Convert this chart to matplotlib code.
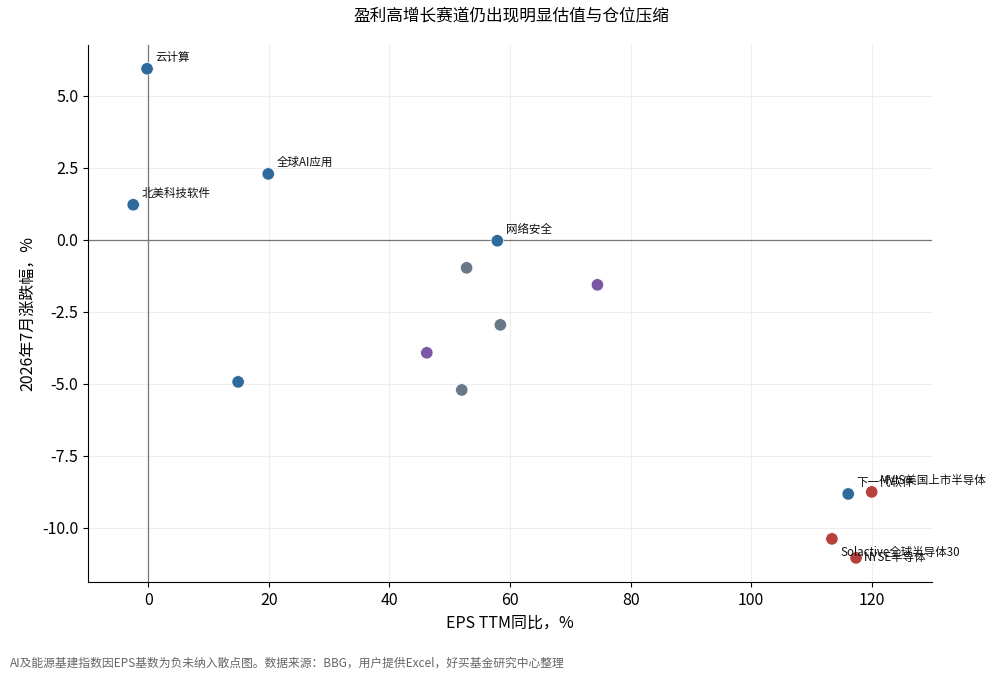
import matplotlib
matplotlib.use("Agg")
import matplotlib.pyplot as plt

plt.rcParams["font.family"] = ["Noto Sans CJK SC", "DejaVu Sans"]
plt.rcParams["axes.unicode_minus"] = False

# EPS TTM growth (%) vs July 2026 return (%)
names = ["云计算", "全球AI应用", "北美科技软件", "网络安全", "", "", "", "", "", "",
         "下一代软件", "MVIS美国上市半导体", "Solactive全球半导体30", "NYSE半导体"]
eps_growth = [-0.2, 19.9, -2.5, 57.9, 52.8, 74.5, 58.4, 46.2, 52.0, 14.9,
              116.1, 120.0, 113.4, 117.4]
july_ret = [5.94, 2.29, 1.22, -0.03, -0.97, -1.56, -2.95, -3.92, -5.21, -4.93,
            -8.82, -8.75, -10.38, -11.04]
groups = ["soft", "soft", "soft", "soft", "other", "energy", "other", "energy", "other", "soft",
          "soft", "semi", "semi", "semi"]

group_colors = {
    "soft": "#2e6a9b",
    "other": "#697888",
    "energy": "#7a58a6",
    "semi": "#b7413a",
}

# label offsets in points
label_offsets = {
    "Solactive全球半导体30": (6, -10),
    "NYSE半导体": (6, 0),
}

fig = plt.figure(figsize=(10, 6.8), dpi=100)
ax = fig.add_axes([0.088, 0.144, 0.844, 0.79])

ax.axhline(0, color="#777777", linewidth=0.9, zorder=1)
ax.axvline(0, color="#777777", linewidth=0.9, zorder=1)

cols = [group_colors[g] for g in groups]
ax.scatter(eps_growth, july_ret, s=80, c=cols, edgecolors="white", linewidths=0.5, zorder=3)

for n, x, y in zip(names, eps_growth, july_ret):
    if not n:
        continue
    dx, dy = label_offsets.get(n, (6, 8))
    ax.annotate(n, (x, y), xytext=(dx, dy), textcoords="offset points",
                fontsize=8.3, va="center", ha="left", color="#111111", zorder=4)

ax.set_xlim(-10, 130)
ax.set_ylim(-11.88, 6.77)
ax.set_yticks([5.0, 2.5, 0.0, -2.5, -5.0, -7.5, -10.0])
ax.set_yticklabels(["5.0", "2.5", "0.0", "-2.5", "-5.0", "-7.5", "-10.0"])
ax.set_xticks([0, 20, 40, 60, 80, 100, 120])
ax.tick_params(labelsize=11.5)
ax.grid(True, color="#eeeeee", linewidth=0.8, zorder=0)
ax.set_axisbelow(True)
for side in ["top", "right"]:
    ax.spines[side].set_visible(False)

ax.set_xlabel("EPS TTM同比，%", fontsize=11.5)
ax.set_ylabel("2026年7月涨跌幅，%", fontsize=11.5)
fig.text(0.511, 0.975, "盈利高增长赛道仍出现明显估值与仓位压缩", ha="center", va="center", fontsize=12)
fig.text(0.01, 0.025, "AI及能源基建指数因EPS基数为负未纳入散点图。数据来源：BBG，用户提供Excel，好买基金研究中心整理",
         ha="left", va="center", fontsize=8.5, color="#666666")

fig.savefig("out.png", dpi=100)
